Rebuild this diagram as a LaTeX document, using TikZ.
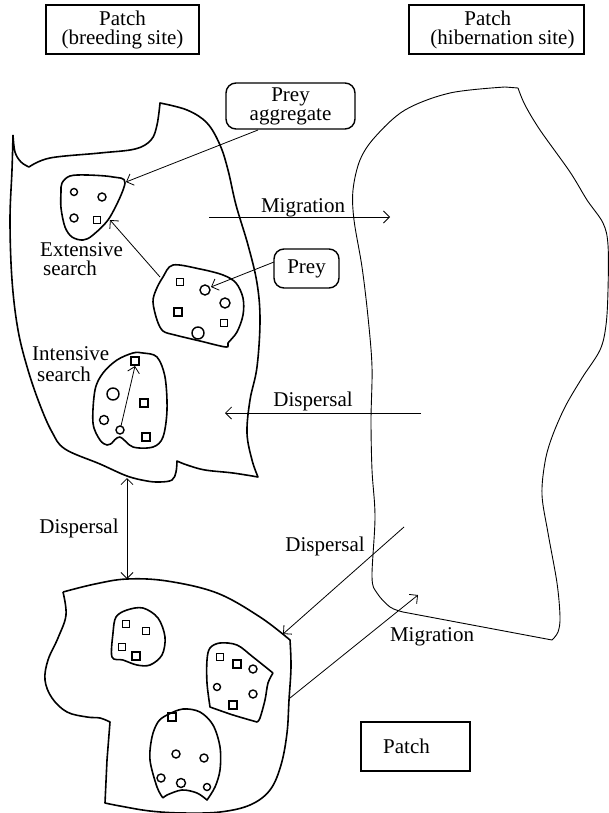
\documentclass[tikz,border=0pt]{standalone}
\usepackage{fontspec}
\setmainfont{Liberation Serif}
\usetikzlibrary{arrows.meta}
\newcommand\mysq[3]{\draw[item] (#1-#3/2,#2-#3/2) rectangle ++(#3,#3);}
\newcommand\mycirc[3]{\draw[item] (#1,#2) circle[radius=#3];}
\begin{document}
\begin{tikzpicture}[x=1pt,y=-1pt,
  patch/.style={line width=1.6pt,line join=round},
  hib/.style={line width=0.9pt,line join=round},
  item/.style={line width=1.4pt},
  arr/.style={line width=0.8pt,-{Straight Barb[length=6pt,width=12pt,line width=0.8pt]}},
  darr/.style={line width=0.8pt,{Straight Barb[length=6pt,width=12pt,line width=0.8pt]}-{Straight Barb[length=6pt,width=12pt,line width=0.8pt]}},
  lbl/.style={font=\fontsize{21}{19}\selectfont,inner sep=0pt,anchor=base},
  lblw/.style={font=\fontsize{21}{19}\selectfont,inner sep=0pt,anchor=base west},
  boxst/.style={draw,line width=1.4pt,inner sep=0pt,align=center,font=\fontsize{21}{19}\selectfont},
  rbox/.style={draw,line width=1.4pt,rounded corners=10pt,inner sep=0pt,align=center,font=\fontsize{21}{19}\selectfont}]
\useasboundingbox (0,0) rectangle (609,813);

% title boxes
\node[boxst,minimum width=153pt,minimum height=49pt] (pb) at (122.5,29.5) {Patch\\(breeding site)};
\node[boxst,minimum width=175pt,minimum height=49pt,align=left] (ph) at (496.5,29.5) {\hspace*{46pt}Patch\\\hspace*{12pt}(hibernation site)};
\node[boxst,minimum width=109pt,minimum height=49pt] (pp) at (415.5,746.5) {\hspace*{0pt}Patch\hspace*{18pt}};

% prey boxes
\node[rbox,minimum width=129pt,minimum height=46pt] (pa) at (290.5,106) {Prey\\aggregate};
\node[rbox,minimum width=65pt,minimum height=39pt] (prey) at (306.5,268.5) {Prey};

% breeding patch
\draw[patch] plot[smooth,tension=0.6] coordinates {(13,135)(15,152)(21,162)(29,167)}
 -- plot[smooth,tension=0.6] coordinates {(29,167)(50,158)(100,153)(135,149)(151,140)(157,125)(160,103)}
 -- plot[smooth,tension=0.6] coordinates {(160,103)(187,110)(207,123)(220,145)(228,170)(236,205)(248,245)(257,283)(260,320)(257,367)(250,400)(247,433)(252,460)(258,477)}
 -- plot[smooth,tension=0.6] coordinates {(258,477)(233,473)(205,470)(187,465)(177,461)}
 -- plot[smooth,tension=0.6] coordinates {(177,461)(176,472)(172,480)(160,482)(147,481)(127,476)(100,464)(65,449)(52,432)(40,405)(28,370)(18,330)(12,280)(10,220)(12,170)(13,135)};

% hibernation patch
\draw[hib] (518,88) -- plot[smooth,tension=0.55] coordinates {(505,87)(450,93)(405,110)(375,137)(360,160)(353,190)(354,220)(362,267)(368,317)(372,367)(371,420)(372,470)(375,517)(372,577)(377,593)(390,607)(403,612)}
 -- plot[smooth,tension=0.55] coordinates {(552,640)(558,632)(560,617)(557,583)(548,533)(542,495)(545,462)(552,437)(565,407)(582,378)(600,350)(606,325)(608,290)(608,245)(603,223)(587,200)(570,172)(540,130)(525,105)(518,88)};

% bottom patch
\draw[patch] plot[smooth,tension=0.6] coordinates {(63,592)(95,584)(127,579)(167,581)(217,593)(260,617)(290,640)}
 -- plot[smooth,tension=0.6] coordinates {(290,640)(291,667)(289,700)(287,733)(281,765)(270,790)(250,805)(220,812)(183,813)(150,811)(120,806)(105,803)}
 -- (107,760) -- (110,722)
 -- plot[smooth,tension=0.6] coordinates {(110,722)(100,718)(87,717)(67,712)(52,698)(45,680)(48,660)(58,638)(66,615)(63,592)};

% blob 1 (extensive search)
\draw[patch] plot[smooth cycle,tension=0.55] coordinates {(62,183)(70,176)(87,175)(113,177)(125,183)(110,217)(93,235)(83,240)(72,237)(65,227)(61,208)(61,192)};
\mycirc{74}{192}{3.5}
\mycirc{102}{197}{4}
\mycirc{74}{218}{4}
\mysq{97}{220}{6.5}
\coordinate (b1tip) at (126,182);
\coordinate (b1in) at (110,220);

% blob 2
\draw[patch] plot[smooth cycle,tension=0.55] coordinates {(173,265)(200,269)(223,275)(236,283)(243,298)(243,315)(237,332)(228,343)(226,347)(200,341)(175,335)(163,331)(157,320)(153,302)(156,290)(163,277)};
\mysq{180}{282}{7}
\mycirc{205}{290}{5}
\mycirc{225}{303}{5}
\mysq{178}{312}{8}
\mysq{224}{323}{7}
\mycirc{198}{333}{6}
\coordinate (b2c) at (160,277);
\coordinate (b2circ) at (211,287);

% blob 3 (intensive search)
\draw[patch] plot[smooth,tension=0.55] coordinates {(112,443)(107,445)(100,440)(93,423)(95,390)(103,373)(117,360)(133,353)(143,353)(157,357)(165,377)(167,410)(163,437)(153,447)(133,447)(120,437)(112,443)};
\mysq{135}{361}{8}
\mycirc{113}{394}{6}
\mysq{144}{403}{8}
\mycirc{104}{420}{4.5}
\mycirc{120}{430}{4}
\mysq{146}{437}{8}
\coordinate (b3a) at (121,426);
\coordinate (b3b) at (135,366);

% bottom blobs
\draw[patch] plot[smooth cycle,tension=0.55] coordinates {(113,633)(116,617)(127,610)(143,608)(158,618)(165,637)(162,655)(150,665)(137,665)(123,660)(112,657)};
\mysq{126}{624}{7}
\mysq{146}{631}{7}
\mysq{122}{647}{7}
\mysq{136}{656}{8}

\draw[patch] plot[smooth,tension=0.55] coordinates {(273,673)(253,657)(237,645)(220,643)(210,648)(207,660)(207,683)(210,707)}
 -- plot[smooth,tension=0.55] coordinates {(210,707)(233,715)(257,722)}
 -- plot[smooth,tension=0.55] coordinates {(257,722)(260,718)(265,700)(268,683)(273,673)};
\mysq{220}{657}{7}
\mysq{237}{664}{8}
\mycirc{253}{669}{4}
\mycirc{217}{687}{3.5}
\mycirc{253}{694}{4}
\mysq{233}{705}{8}

\draw[patch] plot[smooth,tension=0.55] coordinates {(163,798)(157,787)(150,760)(152,737)(158,722)(167,715)(183,709)(200,712)(213,725)(220,747)(220,770)(215,787)(207,800)}
 -- plot[smooth,tension=0.55] coordinates {(207,800)(197,793)(182,790)(167,795)(163,798)};
\mysq{172}{717}{8}
\mycirc{176}{754}{4}
\mycirc{204}{758}{4}
\mycirc{161}{778}{4}
\mycirc{181}{783}{4.5}
\mycirc{207}{787}{3.5}

% connector end points
\coordinate (paS) at (258,130);
\coordinate (preyW) at (274,262);
\coordinate (m1a) at (209,217);
\coordinate (m1b) at (390,217);
\coordinate (d1a) at (421,413);
\coordinate (d1b) at (225,413);
\coordinate (dva) at (127,478);
\coordinate (dvb) at (127,579);
\coordinate (d2a) at (404,527);
\coordinate (d2b) at (283,634);
\coordinate (m2a) at (290,698);
\coordinate (m2b) at (418,595);

% connectors
\draw[arr] (paS) -- (b1tip);
\draw[arr] (b2c) -- (b1in);
\draw[arr] (preyW) -- (b2circ);
\draw[arr] (b3a) -- (b3b);
\draw[arr] (m1a) -- (m1b);
\draw[arr] (d1a) -- (d1b);
\draw[darr] (dva) -- (dvb);
\draw[arr] (d2a) -- (d2b);
\draw[arr] (m2a) -- (m2b);

% labels
\node[lblw] (ext1) at (40,256) {Extensive};
\node[lblw] (ext2) at (43,275) {search};
\node[lblw] (int1) at (32,360) {Intensive};
\node[lblw] (int2) at (37,381) {search};
\node[lbl] (lm1) at (303,212) {Migration};
\node[lbl] (ld1) at (313,406) {Dispersal};
\node[lbl] (ld2) at (79,533) {Dispersal};
\node[lbl] (ld3) at (325,551) {Dispersal};
\node[lbl] (lm2) at (432,641) {Migration};
\end{tikzpicture}
\end{document}
